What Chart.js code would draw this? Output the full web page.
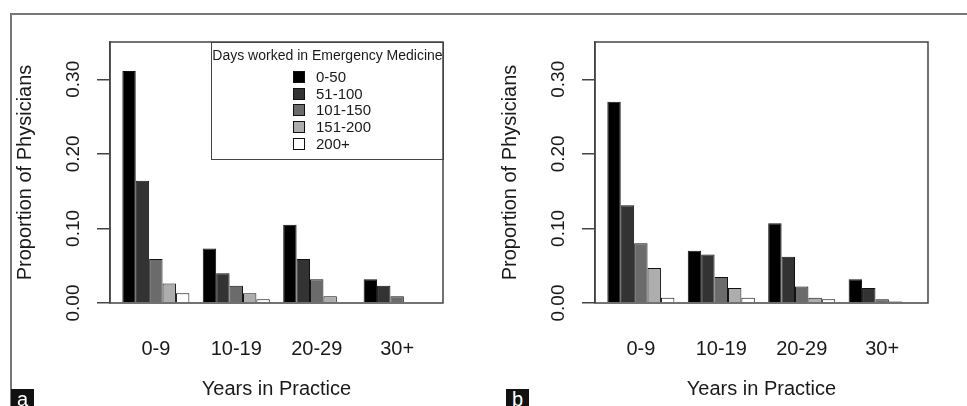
<!DOCTYPE html>
<html>
<head>
<meta charset="utf-8">
<script src="https://cdn.jsdelivr.net/npm/chart.js@4.4.1/dist/chart.umd.min.js"></script>
<style>
  body { margin: 0; background: #fff; font-family: "Liberation Sans", Arial, sans-serif; }
  #fig { position: relative; width: 967px; height: 406px; overflow: hidden; }
  #fig canvas { position: absolute; top: 0; }
  .frameTop { position: absolute; left: 11px; top: 13px; width: 956px; height: 0; border-top: 2px solid #777; }
  .frameLeft { position: absolute; left: 10px; top: 13px; width: 0; height: 393px; border-left: 2px solid #777; }
  .tag { position: absolute; top: 389px; width: 23px; height: 17px; overflow: hidden; background: #111;
         color: #fff; font-size: 20px; line-height: 20px; text-align: center; }
  #legend { position: absolute; left: 211px; top: 42px; width: 231px; height: 116px; border: 1px solid #444; color: #1a1a1a; }
  #legend .title { position: absolute; left: 0; right: 0; top: 4px; text-align: center; font-size: 14px; }
  #legend .row { position: absolute; left: 81px; height: 16px; font-size: 15px; line-height: 16px; }
  #legend .sw { display: inline-block; width: 10px; height: 10px; border: 1px solid #111; vertical-align: -1px; margin-right: 11px; }
</style>
</head>
<body>
<div id="fig">
  <canvas id="chartA" width="485" height="406" style="left:0"></canvas>
  <canvas id="chartB" width="485" height="406" style="left:485px"></canvas>
  <div class="frameTop"></div>
  <div class="frameLeft"></div>
  <div id="legend"><div class="title">Days worked in Emergency Medicine</div></div>
  <div class="tag" style="left:11px">a</div>
  <div class="tag" style="left:506px">b</div>
</div>
<script>
// categories
const years = ["0-9", "10-19", "20-29", "30+"];
const dayGroups = ["0-50", "51-100", "101-150", "151-200", "200+"];
const shades = ["#000000", "#333333", "#6b6b6b", "#adadad", "#ffffff"];
const yTickLabels = ["0.00", "0.10", "0.20", "0.30"];

// panel a - proportion of physicians per years-in-practice group
const a0to50 = [0.311, 0.073, 0.105, 0.032];
const a51to100 = [0.164, 0.040, 0.059, 0.023];
const a101to150 = [0.059, 0.023, 0.032, 0.009];
const a151to200 = [0.026, 0.013, 0.009, 0];
const a200plus = [0.013, 0.005, 0, 0];

// panel b
const b0to50 = [0.270, 0.070, 0.107, 0.032];
const b51to100 = [0.131, 0.065, 0.062, 0.020];
const b101to150 = [0.080, 0.035, 0.022, 0.005];
const b151to200 = [0.047, 0.020, 0.007, 0.002];
const b200plus = [0.007, 0.007, 0.005, 0];

const ink = "#1a1a1a";
const font = "'Liberation Sans', Arial, sans-serif";

// box round the plot region
const boxPlugin = {
  id: "box",
  afterDatasetsDraw(chart) {
    const { ctx, chartArea: a } = chart;
    ctx.save();
    ctx.strokeStyle = "#444";
    ctx.lineWidth = 1.5;
    ctx.strokeRect(a.left, a.top, a.right - a.left, a.bottom - a.top);
    ctx.restore();
  }
};

function makeChart(id, series) {
  return new Chart(document.getElementById(id), {
    type: "bar",
    data: {
      labels: years.map((_, i) => i),
      datasets: series.map((vals, k) => ({
        label: dayGroups[k],
        data: vals,
        backgroundColor: shades[k],
        borderColor: "#111",
        borderWidth: 1,
        categoryPercentage: 5 / 6,
        barPercentage: 1
      }))
    },
    options: {
      responsive: false,
      animation: false,
      layout: { padding: { left: 0, top: 42, right: 42, bottom: 0 } },
      plugins: { legend: { display: false }, tooltip: { enabled: false } },
      scales: {
        x: {
          type: "linear",
          offset: false,
          min: -0.57,
          max: 3.57,
          afterBuildTicks: s => { s.ticks = years.map((_, i) => ({ value: i })); },
          afterFit: s => { s.height = 103; },
          grid: { display: false, offset: false },
          border: { display: false },
          ticks: { padding: 26, color: ink, font: { family: font, size: 20 }, callback: v => years[v] },
          title: { display: true, text: "Years in Practice", color: ink, font: { family: font, size: 20 }, padding: { top: 0, bottom: 5 } }
        },
        y: {
          min: 0,
          max: 0.35,
          afterFit: s => { s.width = 110; },
          grid: { drawOnChartArea: false, tickLength: 13, color: "#444", lineWidth: 1.5 },
          border: { display: true, color: "#444", width: 1.5 },
          ticks: {
            stepSize: 0.05,
            minRotation: 90,
            maxRotation: 90,
            crossAlign: "center",
            padding: 5,
            color: ink,
            font: { family: font, size: 19 },
            callback: v => yTickLabels.includes(v.toFixed(2)) ? v.toFixed(2) : ""
          },
          title: { display: true, text: "Proportion of Physicians", color: ink, font: { family: font, size: 20 }, padding: { top: 13, bottom: 0 } }
        }
      }
    },
    plugins: [boxPlugin]
  });
}

makeChart("chartA", [a0to50, a51to100, a101to150, a151to200, a200plus]);
makeChart("chartB", [b0to50, b51to100, b101to150, b151to200, b200plus]);

// legend of panel a
const legend = document.getElementById("legend");
dayGroups.forEach((g, k) => {
  const row = document.createElement("div");
  row.className = "row";
  row.style.top = (26 + k * 16.7) + "px";
  row.innerHTML = '<span class="sw" style="background:' + shades[k] + '"></span>' + g;
  legend.appendChild(row);
});
</script>
</body>
</html>
